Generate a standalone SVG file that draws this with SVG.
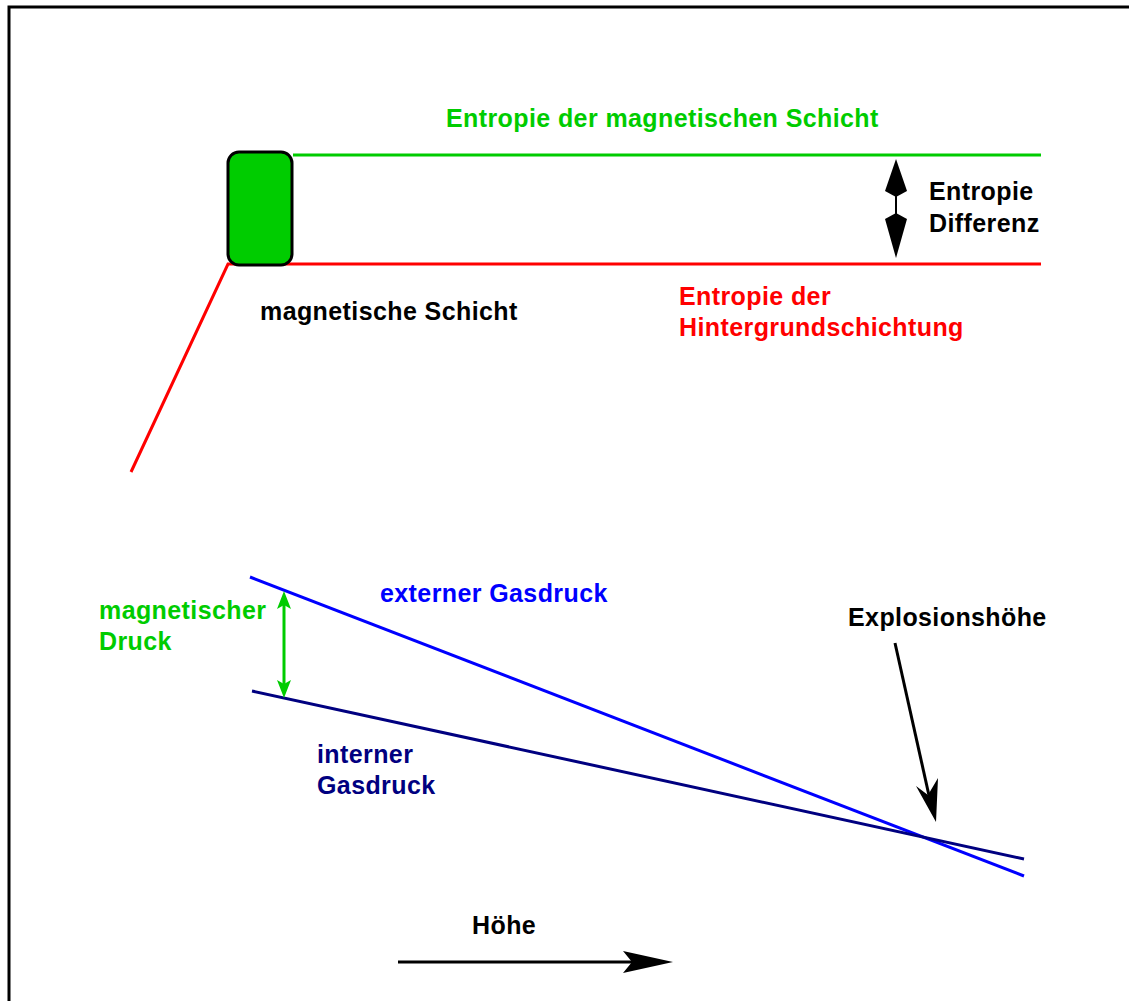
<svg xmlns="http://www.w3.org/2000/svg" width="1129" height="1001" viewBox="0 0 1129 1001">
<style>
text{font-family:"Liberation Sans",Arial,sans-serif;font-weight:bold;font-size:25px;letter-spacing:0.4px}
.g{fill:#00cc00}.r{fill:#ff0000}.b{fill:#0000ff}.n{fill:#000080}.k{fill:#000000}
</style>
<rect width="1129" height="1001" fill="#ffffff"/>
<rect x="9" y="7" width="1130" height="1010" fill="none" stroke="#000" stroke-width="3"/>
<g id="connectors">
<line x1="293" y1="155" x2="1041" y2="155" stroke="#00cc00" stroke-width="3"/>
<polyline points="131,472 228,264 1041,264" fill="none" stroke="#ff0000" stroke-width="3"/>
<line x1="896" y1="190" x2="896" y2="222" stroke="#000" stroke-width="2"/>
<path d="M896,159 L907,191 L896,197 L885,191 Z" fill="#000"/>
<path d="M896,258 L907,219 L896,213 L885,219 Z" fill="#000"/>
<line x1="250" y1="577" x2="1024" y2="876" stroke="#0000ff" stroke-width="3"/>
<line x1="252" y1="691" x2="1024" y2="859" stroke="#000080" stroke-width="3"/>
<line x1="284" y1="600" x2="284" y2="690" stroke="#00cc00" stroke-width="3"/>
<path d="M284,591 L291,609 L284,605 L277,609 Z" fill="#00cc00"/>
<path d="M284,698 L291,680 L284,684 L277,680 Z" fill="#00cc00"/>
<line x1="895" y1="643" x2="930" y2="800" stroke="#000" stroke-width="3"/>
<path d="M936,822 L938,778 L928,795 L916,786 Z" fill="#000"/>
<line x1="398" y1="962" x2="640" y2="962" stroke="#000" stroke-width="3"/>
<path d="M673,962 L623,951 L632,962 L623,973 Z" fill="#000"/>
</g>
<g id="magnetische-schicht-box">
<rect x="228" y="152" width="64" height="113" rx="11" fill="#00cc00" stroke="#000" stroke-width="3"/>
</g>
<g id="labels">
<text class="g" x="446" y="127">Entropie der magnetischen Schicht</text>
<text class="k" x="929" y="200">Entropie</text>
<text class="k" x="929" y="232">Differenz</text>
<text class="k" x="260" y="320">magnetische Schicht</text>
<text class="r" x="679" y="305">Entropie der</text>
<text class="r" x="679" y="336">Hintergrundschichtung</text>
<text class="g" x="99" y="619">magnetischer</text>
<text class="g" x="99" y="650">Druck</text>
<text class="b" x="380" y="602">externer Gasdruck</text>
<text class="n" x="317" y="763">interner</text>
<text class="n" x="317" y="794">Gasdruck</text>
<text class="k" x="848" y="626">Explosionshöhe</text>
<text class="k" x="472" y="934">Höhe</text>
</g>
</svg>
